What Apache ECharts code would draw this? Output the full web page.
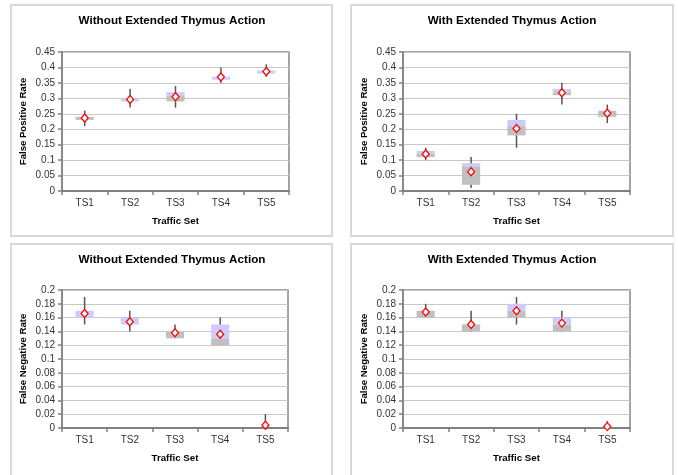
<!DOCTYPE html>
<html>
<head>
<meta charset="utf-8">
<script src="https://cdn.jsdelivr.net/npm/echarts@6/dist/echarts.min.js"></script>
<style>
  html, body { margin: 0; padding: 0; background: #fff; }
  #chart { width: 678px; height: 475px; }
</style>
</head>
<body>
<div id="chart"></div>
<script>
const categories = ['TS1', 'TS2', 'TS3', 'TS4', 'TS5'];

// rows per traffic set: [min, q1, median, q3, max]
const fpWithoutBox = [
  [0.21, 0.23, 0.24, 0.24, 0.26],
  [0.27, 0.29, 0.29, 0.30, 0.33],
  [0.27, 0.29, 0.31, 0.32, 0.34],
  [0.35, 0.36, 0.36, 0.37, 0.40],
  [0.37, 0.38, 0.38, 0.39, 0.41]
];
const fpWithoutMean = [0.236, 0.296, 0.305, 0.369, 0.387];

const fpWithBox = [
  [0.10, 0.11, 0.12, 0.13, 0.14],
  [0.01, 0.02, 0.08, 0.09, 0.11],
  [0.14, 0.18, 0.21, 0.23, 0.25],
  [0.28, 0.31, 0.32, 0.33, 0.35],
  [0.22, 0.24, 0.26, 0.26, 0.28]
];
const fpWithMean = [0.12, 0.062, 0.202, 0.318, 0.252];

const fnWithoutBox = [
  [0.15, 0.16, 0.16, 0.17, 0.19],
  [0.14, 0.15, 0.15, 0.16, 0.17],
  [0.13, 0.13, 0.14, 0.14, 0.15],
  [0.12, 0.12, 0.13, 0.15, 0.16],
  [0.00, 0.00, 0.00, 0.00, 0.02]
];
const fnWithoutMean = [0.166, 0.154, 0.138, 0.136, 0.004];

const fnWithBox = [
  [0.16, 0.16, 0.17, 0.17, 0.18],
  [0.14, 0.14, 0.15, 0.15, 0.17],
  [0.15, 0.16, 0.17, 0.18, 0.19],
  [0.14, 0.14, 0.15, 0.16, 0.17],
  [0.00, 0.00, 0.00, 0.00, 0.01]
];
const fnWithMean = [0.168, 0.15, 0.17, 0.152, 0.002];

const fpTicks = { max: 0.45, interval: 0.05 };
const fnTicks = { max: 0.2, interval: 0.02 };

const font = "'Liberation Sans', Arial, sans-serif";

const panels = [
  { title: 'Without Extended Thymus Action', yName: 'False Positive Rate', box: fpWithoutBox, mean: fpWithoutMean, ticks: fpTicks,
    cx: 172, titleTop: 15, grid: { left: 62, top: 52, width: 227, height: 139 } },
  { title: 'With Extended Thymus Action', yName: 'False Positive Rate', box: fpWithBox, mean: fpWithMean, ticks: fpTicks,
    cx: 512, titleTop: 15, grid: { left: 403, top: 52, width: 227, height: 139 } },
  { title: 'Without Extended Thymus Action', yName: 'False Negative Rate', box: fnWithoutBox, mean: fnWithoutMean, ticks: fnTicks,
    cx: 172, titleTop: 254, grid: { left: 62, top: 290, width: 226, height: 138 } },
  { title: 'With Extended Thymus Action', yName: 'False Negative Rate', box: fnWithBox, mean: fnWithMean, ticks: fnTicks,
    cx: 512, titleTop: 254, grid: { left: 403, top: 290, width: 227, height: 138 } }
];

function renderBox(params, api) {
  const x = api.value(0);
  const lo = api.coord([x, api.value(1)]);
  const q1 = api.coord([x, api.value(2)]);
  const md = api.coord([x, api.value(3)]);
  const q3 = api.coord([x, api.value(4)]);
  const hi = api.coord([x, api.value(5)]);
  const w = api.size([1, 0])[0] * 0.4;
  return {
    type: 'group',
    children: [
      { type: 'line', shape: { x1: lo[0], y1: lo[1], x2: hi[0], y2: hi[1] },
        style: { stroke: '#555', lineWidth: 1.5 } },
      { type: 'rect', shape: { x: md[0] - w / 2, y: md[1], width: w, height: q1[1] - md[1] },
        style: { fill: '#c0c0c0' } },
      { type: 'rect', shape: { x: q3[0] - w / 2, y: q3[1], width: w, height: md[1] - q3[1] },
        style: { fill: '#ccccff' } }
    ]
  };
}

const chart = echarts.init(document.getElementById('chart'));

const option = {
  animation: false,
  backgroundColor: '#fff',
  textStyle: { fontFamily: font },
  title: panels.map(p => ({
    text: p.title,
    left: p.cx,
    top: p.titleTop,
    textAlign: 'center',
    padding: 0,
    textStyle: { fontSize: 11.7, fontWeight: 'bold', color: '#000', fontFamily: font }
  })),
  graphic: [
    { type: 'rect', shape: { x: 11, y: 5, width: 321, height: 231 }, style: { fill: 'none', stroke: '#d9d9d9', lineWidth: 2 }, silent: true },
    { type: 'rect', shape: { x: 351, y: 5, width: 322, height: 231 }, style: { fill: 'none', stroke: '#d9d9d9', lineWidth: 2 }, silent: true },
    { type: 'rect', shape: { x: 11, y: 244, width: 321, height: 240 }, style: { fill: 'none', stroke: '#d9d9d9', lineWidth: 2 }, silent: true },
    { type: 'rect', shape: { x: 351, y: 244, width: 322, height: 240 }, style: { fill: 'none', stroke: '#d9d9d9', lineWidth: 2 }, silent: true }
  ],
  grid: panels.map(p => Object.assign({ show: true, borderColor: '#888', borderWidth: 1.5, containLabel: false }, p.grid)),
  xAxis: panels.map((p, i) => ({
    type: 'category',
    gridIndex: i,
    data: categories,
    name: 'Traffic Set',
    nameLocation: 'middle',
    nameGap: 25,
    nameTextStyle: { fontSize: 9.7, fontWeight: 'bold', color: '#000', fontFamily: font },
    axisLine: { lineStyle: { color: '#808080', width: 2 } },
    axisTick: { show: true, length: 4, lineStyle: { color: '#808080', width: 1.5 } },
    axisLabel: { fontSize: 10, color: '#333', margin: 7, fontFamily: font },
    splitLine: { show: false }
  })),
  yAxis: panels.map((p, i) => ({
    type: 'value',
    gridIndex: i,
    min: 0,
    max: p.ticks.max,
    interval: p.ticks.interval,
    name: p.yName,
    nameLocation: 'middle',
    nameGap: 34,
    nameTextStyle: { fontSize: 9.6, fontWeight: 'bold', color: '#000', fontFamily: font },
    axisLine: { show: true, lineStyle: { color: '#808080', width: 1.5 } },
    axisTick: { show: true, length: 4, lineStyle: { color: '#808080', width: 1.5 } },
    axisLabel: { fontSize: 10, color: '#333', margin: 7, fontFamily: font },
    splitLine: { show: true, lineStyle: { color: '#c8c8c8', width: 1 } }
  })),
  series: []
};

panels.forEach((p, i) => {
  option.series.push({
    type: 'custom',
    xAxisIndex: i,
    yAxisIndex: i,
    renderItem: renderBox,
    encode: { x: 0, y: [1, 2, 3, 4, 5] },
    data: p.box.map((r, k) => [k].concat(r)),
    z: 2
  });
  option.series.push({
    type: 'scatter',
    xAxisIndex: i,
    yAxisIndex: i,
    data: p.mean,
    symbol: 'diamond',
    symbolSize: [7, 8],
    itemStyle: { color: '#fff', borderColor: '#ff0000', borderWidth: 1.3, opacity: 1 },
    z: 5
  });
});

chart.setOption(option);
</script>
</body>
</html>
